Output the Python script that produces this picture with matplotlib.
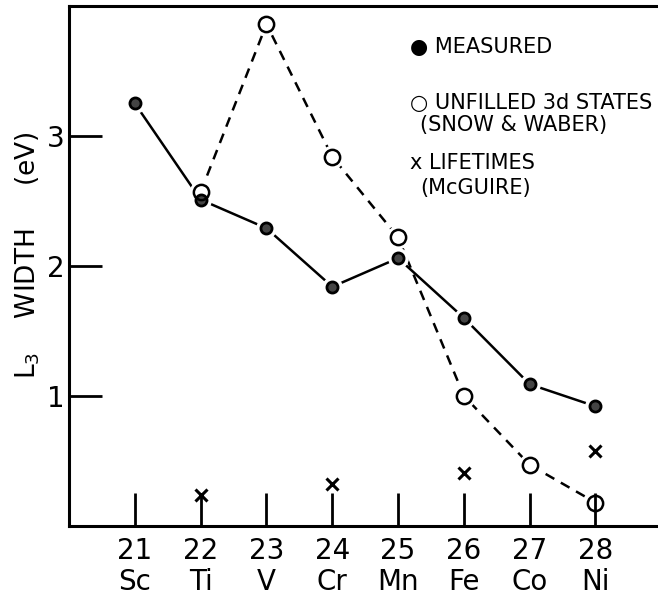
import numpy as np
import matplotlib
matplotlib.use('Agg')
import matplotlib.pyplot as plt

# atomic number and element symbol along the bottom
z_number = [21, 22, 23, 24, 25, 26, 27, 28]
element = ['Sc', 'Ti', 'V', 'Cr', 'Mn', 'Fe', 'Co', 'Ni']

# L3 width in eV
measured = [3.25, 2.51, 2.29, 1.84, 2.06, 1.60, 1.09, 0.92]
unfilled_z = [22, 23, 24, 25, 26, 27, 28]
unfilled_3d = [2.57, 3.86, 2.84, 2.22, 1.00, 0.47, 0.18]
lifetime_z = [22, 24, 26, 28]
lifetimes = [0.24, 0.32, 0.41, 0.58]

plt.rcParams['font.family'] = 'DejaVu Sans'
fig = plt.figure(figsize=(6.58, 5.99), dpi=100)
ax = fig.add_axes([0.105, 0.122, 0.9, 0.868])

_LW = 1.8
# connecting lines first
ax.plot(z_number, measured, color='k', linewidth=_LW, linestyle='solid', zorder=2)
ax.plot(unfilled_z, unfilled_3d, color='k', linewidth=_LW, linestyle=(0, (4, 3)), zorder=2)

# white halos so the lines stop short of the symbols
ax.plot(z_number, measured, 'o', color='white', markersize=14, zorder=3)
ax.plot(unfilled_z, unfilled_3d, 'o', color='white', markersize=16, zorder=3)

# symbols
ax.plot(z_number, measured, 'o', markerfacecolor='#444444', markeredgecolor='k',
        markeredgewidth=2, markersize=8, zorder=5)
ax.plot(unfilled_z, unfilled_3d, 'o', markerfacecolor='none', markeredgecolor='k',
        markeredgewidth=1.8, markersize=11, zorder=5)
ax.plot(lifetime_z, lifetimes, 'x', color='k', markeredgewidth=2.2, markersize=9, zorder=5)

# key in the upper right
legend_kw = dict(fontsize=15, ha='left', va='center', transform=ax.transAxes)
ax.text(0.575, 0.921, '\u25cf MEASURED', **legend_kw)
ax.text(0.575, 0.813, '\u25cb UNFILLED 3d STATES', **legend_kw)
ax.text(0.593, 0.771, '(SNOW & WABER)', **legend_kw)
ax.text(0.575, 0.698, 'x LIFETIMES', **legend_kw)
ax.text(0.593, 0.650, '(McGUIRE)', **legend_kw)

ax.set_xlim(20, 29)
ax.set_ylim(0, 4)
ax.set_xticks(z_number)
ax.set_xticklabels([str(n) + '\n' + s for n, s in zip(z_number, element)], linespacing=1.15)
ax.set_yticks([1, 2, 3])
ax.tick_params(axis='both', direction='in', length=24, width=2, labelsize=20)
ax.tick_params(axis='x', pad=8)
ax.tick_params(axis='y', pad=3)
# keep the tick marks above the halos
ax.xaxis.set_zorder(4)

ax.set_ylabel(r'L$_3$    WIDTH     (eV)', fontsize=19)
ax.yaxis.set_label_coords(-0.045, 0.52)

for side in ['left', 'bottom', 'top']:
    ax.spines[side].set_linewidth(2.2)
ax.spines['right'].set_visible(False)

fig.savefig('out.png', dpi=100)
